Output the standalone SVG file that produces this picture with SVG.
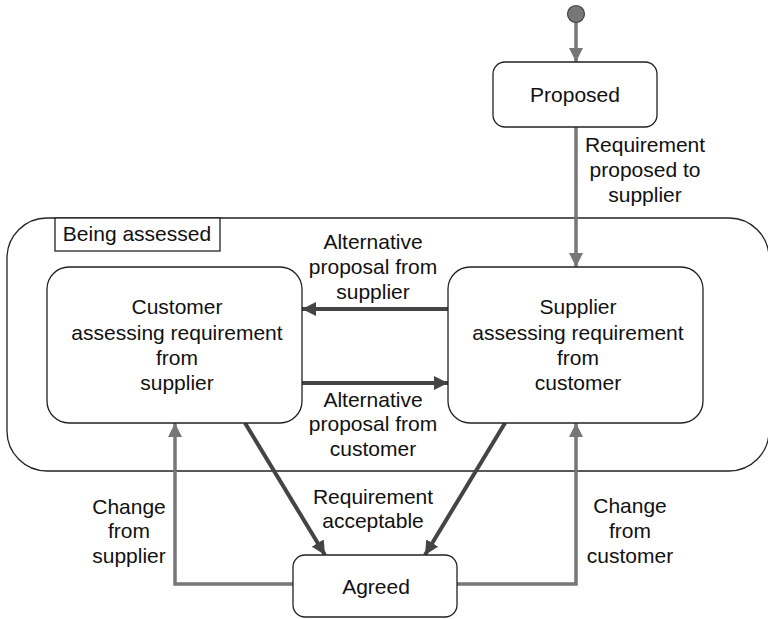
<svg xmlns="http://www.w3.org/2000/svg" width="768" height="619" viewBox="0 0 768 619">
<style>
text{font-family:"Liberation Sans",Arial,sans-serif;font-size:21px;fill:#111;text-anchor:middle}
.box{fill:#fff;stroke:#222;stroke-width:1.3}
.g{stroke:#777;stroke-width:3.5;fill:none}
.d{stroke:#444;stroke-width:4;fill:none}
</style>
<defs>
<marker id="ag" viewBox="0 0 14 14" refX="14" refY="7" markerWidth="14" markerHeight="14" markerUnits="userSpaceOnUse" orient="auto"><path d="M0,0 L14,7 L0,14 Z" fill="#777"/></marker>
<marker id="ad" viewBox="0 0 14 14" refX="14" refY="7" markerWidth="14" markerHeight="14" markerUnits="userSpaceOnUse" orient="auto"><path d="M0,0 L14,7 L0,14 Z" fill="#444"/></marker>
</defs>
<g id="container">
<rect x="7" y="218" width="762" height="253" rx="40" class="box"/>
<rect x="55" y="218" width="165" height="33" class="box"/>
<text x="137" y="241">Being assessed</text>
</g>
<g id="connectors">
<line x1="576" y1="22" x2="576" y2="62" class="g" marker-end="url(#ag)"/>
<line x1="576" y1="127" x2="576" y2="267" class="g" marker-end="url(#ag)"/>
<line x1="448" y1="309" x2="302" y2="309" class="d" marker-end="url(#ad)"/>
<line x1="302" y1="383" x2="448" y2="383" class="d" marker-end="url(#ad)"/>
<line x1="245" y1="423" x2="325" y2="555" class="d" marker-end="url(#ad)"/>
<line x1="505" y1="423" x2="425" y2="555" class="d" marker-end="url(#ad)"/>
<polyline points="293,584 175,584 175,423" class="g" marker-end="url(#ag)"/>
<polyline points="457,584 576,584 576,423" class="g" marker-end="url(#ag)"/>
<text x="645" y="152">Requirement</text>
<text x="645" y="177">proposed to</text>
<text x="645" y="202">supplier</text>
<text x="373" y="249">Alternative</text>
<text x="373" y="274">proposal from</text>
<text x="373" y="299">supplier</text>
<text x="373" y="407">Alternative</text>
<text x="373" y="431">proposal from</text>
<text x="373" y="456">customer</text>
<text x="373" y="504">Requirement</text>
<text x="373" y="528">acceptable</text>
<text x="129" y="514">Change</text>
<text x="129" y="538">from</text>
<text x="129" y="563">supplier</text>
<text x="630" y="513">Change</text>
<text x="630" y="538">from</text>
<text x="630" y="563">customer</text>
</g>
<g id="initial">
<circle cx="576" cy="14" r="8.5" fill="#777" stroke="#444" stroke-width="1.2"/>
</g>
<g id="proposed">
<rect x="493" y="62" width="164" height="65" rx="12" class="box"/>
<text x="575" y="102">Proposed</text>
</g>
<g id="customer">
<rect x="47" y="267" width="255" height="156" rx="22" class="box"/>
<text x="177" y="314">Customer</text>
<text x="177" y="340">assessing requirement</text>
<text x="177" y="365">from</text>
<text x="177" y="390">supplier</text>
</g>
<g id="supplier">
<rect x="448" y="267" width="255" height="156" rx="22" class="box"/>
<text x="578" y="314">Supplier</text>
<text x="578" y="340">assessing requirement</text>
<text x="578" y="365">from</text>
<text x="578" y="390">customer</text>
</g>
<g id="agreed">
<rect x="293" y="555" width="164" height="62" rx="12" class="box"/>
<text x="376" y="594">Agreed</text>
</g>
</svg>
